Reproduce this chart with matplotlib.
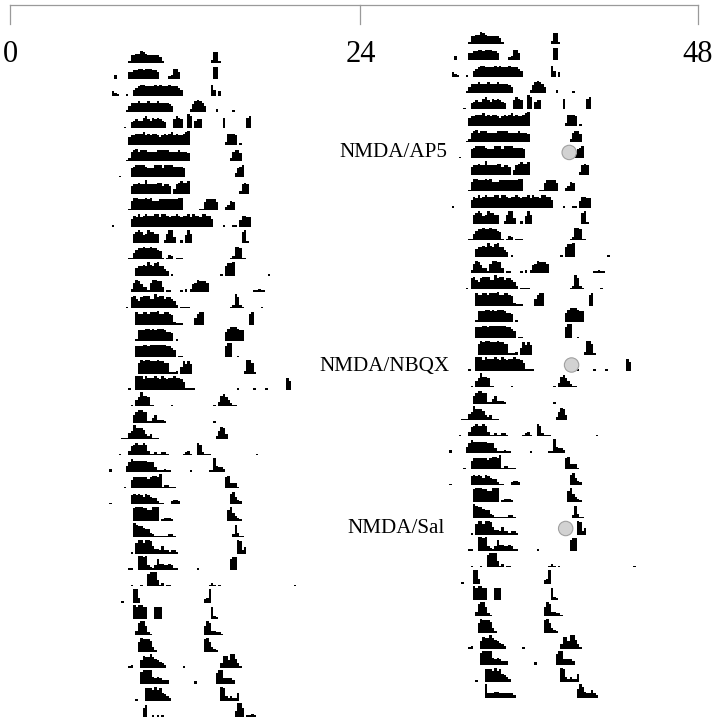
"""Double-plotted actogram of locomotor activity (10 min bins), NMDA/antagonist injections."""
import matplotlib
matplotlib.use("Agg")
import matplotlib.pyplot as plt
from matplotlib.lines import Line2D
from matplotlib.patches import Circle

W, H = 714, 719
BIN_PX = 2.36     # 10 min bin width in pixels
COUNT_PX = 1.55   # one count step in pixels
ROW_PX = 16.35
BINS_PER_DAY = 144

# one row per day: (start bin, counts per bin as digits)
left_rows = [
    [(51, "155668765555541"), (86, "2771")],
    [(45, "3"), (51, "5566776777665"), (68, "23775"), (87, "88")],
    [(44, "32"), (46, "1"), (50, "1"), (53, "456776666767666766654"), (86, "74"), (89, "3")],
    [(50, "1"), (51, "4666766676667666654"), (77, "2578764"), (88, "2"), (95, "1")],
    [(49, "1"), (52, "456557865767654"), (70, "6876"), (76, "98"), (79, "566"), (91, "7"), (101, "78")],
    [(51, "56677786767765676786766789"), (92, "27776"), (98, "1")],
    [(50, "1"), (51, "26786777666677777666676665"), (94, "26775")],
    [(47, "1"), (52, "67888876668886888877776"), (96, "3678")],
    [(52, "56676696666775665"), (70, "3678778"), (98, "2676")],
    [(51, "1"), (52, "6887778786667777777788"), (81, "11577775"), (92, "2365")],
    [(44, "1"), (52, "57686787778868876778767786877688775"), (91, "1"), (95, "11"), (98, "47766")],
    [(53, "67875687766"), (66, "26884"), (73, "2"), (75, "586"), (99, "781")],
    [(51, "11"), (53, "4677877877651"), (67, "132"), (71, "111"), (94, "1288711")],
    [(54, "56676976896643"), (69, "1"), (90, "1"), (92, "6889"), (110, "1")],
    [(52, "26875331688773"), (67, "11"), (73, "1"), (75, "2"), (77, "25687776"), (104, "11211")],
    [(50, "1"), (52, "78657888669788677652"), (73, "1111"), (94, "129721"), (107, "1")],
    [(54, "87788788897788762"), (71, "111"), (79, "4788"), (102, "78")],
    [(54, "1777887878887665"), (71, "1"), (92, "68999877")],
    [(54, "77788788888887765"), (72, "11"), (92, "799"), (97, "1")],
    [(55, "7989988898877"), (68, "1112"), (73, "48686"), (100, "29971")],
    [(51, "1"), (54, "999798889879878898875"), (75, "1111"), (97, "1"), (104, "1"), (109, "1"), (118, "86")],
    [(52, "1"), (54, "46977611"), (69, "1"), (87, "1"), (89, "37864211")],
    [(53, "57887711352221"), (87, "1")],
    [(48, "111"), (51, "4597776323111"), (88, "25873")],
    [(47, "1"), (51, "36787787311211221"), (74, "1231"), (80, "872111"), (105, "1")],
    [(43, "2"), (50, "4687777776663111211"), (77, "1"), (85, "1194332")],
    [(49, "1"), (52, "5777777678879122111"), (92, "783331")],
    [(43, "1"), (52, "67676576544211"), (69, "2332"), (94, "78532")],
    [(53, "89998877999"), (65, "12221"), (93, "795321")],
    [(53, "987765532111111221"), (95, "28311")],
    [(52, "1"), (54, "799799853325221221"), (97, "9824")],
    [(51, "11"), (55, "99893213744334311"), (80, "1"), (94, "788")],
    [(52, "1"), (56, "1"), (59, "8999412"), (67, "11"), (85, "121"), (89, "1"), (121, "1")],
    [(48, "1"), (53, "993"), (83, "239")],
    [(53, "989988"), (62, "888"), (86, "821")],
    [(54, "3899621"), (83, "69833221")],
    [(55, "69888731"), (83, "896321")],
    [(51, "12"), (56, "58779765432"), (74, "1"), (90, "388599631")],
    [(56, "899995454333"), (79, "2"), (88, "79944443")],
    [(54, "1"), (58, "88879785432"), (90, "98323225")],
    [(57, "68"), (61, "1"), (63, "1"), (65, "1"), (96, "4996"), (101, "1121")],
]
# last day is complete only in the right-hand plot
right_last_row = [(58, "9333443333332"), (97, "697433532")]

# gray dots mark the injections, in right-hand plot rows
injection_rows = [7, 20, 30]
injection_bins = [93.8, 94.8, 92.3]
condition_labels = ["NMDA/AP5", "NMDA/NBQX", "NMDA/Sal"]
hour_labels = ["0", "24", "48"]


def fx(px):
    return px / W


def fy(py):
    return 1 - py / H


def draw_rows(ax, rows, bin_shift, first_base):
    for i, row in enumerate(rows):
        base = first_base - i * ROW_PX / COUNT_PX
        for start, counts in row:
            heights = [int(c) for c in counts]
            bins = [start + bin_shift + k for k in range(len(heights))]
            ax.bar(bins, heights, width=1.05, bottom=base, align="edge",
                   color="black", linewidth=0)


plt.rcParams["font.family"] = ["Liberation Serif", "DejaVu Serif"]
fig = plt.figure(figsize=(W / 100, H / 100), dpi=100)
ax = fig.add_axes([0, 0, 1, 1])
ax.set_xlim(-8 / BIN_PX, (W - 8) / BIN_PX)
ax.set_ylim(-(H - 63) / COUNT_PX, 63 / COUNT_PX)
ax.axis("off")

right_base = 19 / COUNT_PX
draw_rows(ax, left_rows, 0, 0)
draw_rows(ax, left_rows[:-1] + [right_last_row], BINS_PER_DAY, right_base)

# injection markers
for row, b in zip(injection_rows, injection_bins):
    base = right_base - row * ROW_PX / COUNT_PX
    x_px = (b + BINS_PER_DAY) * BIN_PX + 8
    y_px = 63 - base * COUNT_PX - 6
    fig.add_artist(Circle((x_px, H - y_px), 7.2, transform=None, facecolor="#d2d2d2",
                          edgecolor="#a0a0a0", linewidth=0.8))

# time bracket along the top
bracket = dict(color="#9a9a9a", linewidth=0.9, transform=fig.transFigure)
fig.add_artist(Line2D([fx(9.5), fx(698)], [fy(4.5), fy(4.5)], **bracket))
for px in (9.5, 360, 698):
    fig.add_artist(Line2D([fx(px), fx(px)], [fy(4.5), fy(24)], **bracket))
for label, px in zip(hour_labels, (10, 361, 698)):
    fig.text(fx(px), fy(54), label, fontsize=22, ha="center", va="center")

for label, px, py in zip(condition_labels, (393.5, 384, 396.5), (152.5, 366.5, 528.5)):
    fig.text(fx(px), fy(py), label, fontsize=15.2, ha="center", va="center")

fig.savefig("out.png", dpi=100)
